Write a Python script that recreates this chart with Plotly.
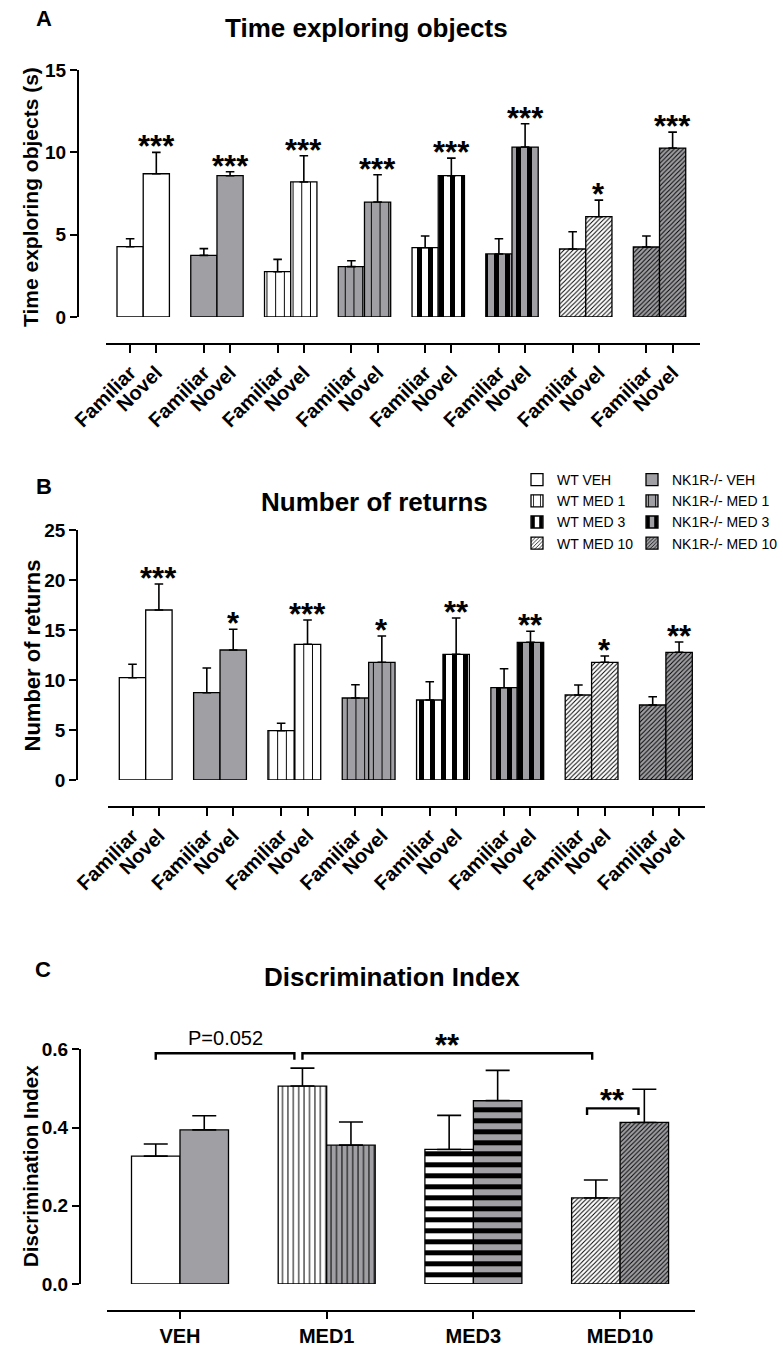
import plotly.graph_objects as go

W, H = 783, 1366
FONT = "Liberation Sans, Arial, Helvetica, sans-serif"
GRAY = "#a0a0a4"

# ---- data -------------------------------------------------------------
treatments = ["WT VEH", "NK1R-/- VEH", "WT MED 1", "NK1R-/- MED 1",
              "WT MED 3", "NK1R-/- MED 3", "WT MED 10", "NK1R-/- MED 10"]
objects = ["Familiar", "Novel"]

# Panel A: time exploring objects (s), mean and SEM per treatment
time_familiar = [4.27, 3.74, 2.75, 3.06, 4.21, 3.83, 4.13, 4.25]
time_novel = [8.70, 8.58, 8.20, 6.98, 8.58, 10.32, 6.09, 10.26]
time_familiar_sem = [0.48, 0.41, 0.75, 0.36, 0.71, 0.92, 1.05, 0.67]
time_novel_sem = [1.30, 0.24, 1.59, 1.66, 1.07, 1.42, 1.01, 0.97]
time_sig = ["***", "***", "***", "***", "***", "***", "*", "***"]

# Panel B: number of returns, mean and SEM per treatment
returns_familiar = [10.23, 8.73, 4.93, 8.20, 8.00, 9.23, 8.50, 7.50]
returns_novel = [17.00, 13.00, 13.57, 11.77, 12.57, 13.77, 11.77, 12.77]
returns_familiar_sem = [1.34, 2.47, 0.74, 1.33, 1.83, 1.90, 1.00, 0.83]
returns_novel_sem = [2.60, 2.07, 2.43, 2.63, 3.63, 1.10, 0.63, 1.03]
returns_sig = ["***", "*", "***", "*", "**", "**", "*", "**"]

# Panel C: discrimination index by dose and genotype
doses = ["VEH", "MED1", "MED3", "MED10"]
di_wt = [0.327, 0.506, 0.344, 0.220]
di_wt_sem = [0.031, 0.046, 0.087, 0.046]
di_nk = [0.394, 0.355, 0.469, 0.413]
di_nk_sem = [0.036, 0.059, 0.077, 0.085]

# ---- geometry helpers -------------------------------------------------
def px_x(p):
    return p / W


def px_y(p):
    return 1 - p / H


GAP = 2.815           # distance between treatment groups (bar widths)
C_BAR = 0.3306        # bar width on the dose axis of panel C


def fill_style(k, panel):
    """Fill and hatching for treatment k (even = WT, odd = NK1R-/-)."""
    bg = "white" if k % 2 == 0 else GRAY
    dose = k // 2
    if dose == 0:
        pat = dict(shape="")
    elif dose == 1:
        size = 8.7 if panel != "C" else 5.4
        pat = dict(shape="|", size=size, solidity=1.0 / size)
    elif dose == 2:
        pat = dict(shape="-" if panel == "C" else "|", size=11, solidity=0.45)
    else:
        pat = dict(shape="/", size=3.2, solidity=0.3)
    pat.update(fillmode="replace", fgcolor="black", bgcolor=bg)
    return dict(color=bg, pattern=pat, line=dict(color="black", width=1.3))


def err(arr, width):
    return dict(type="data", symmetric=False, array=arr, arrayminus=[0] * len(arr),
                color="black", thickness=1.6, width=width)


fig = go.Figure()

# ---- panels A and B ---------------------------------------------------
panels = [
    ("A", "x", "y", time_familiar, time_novel, time_familiar_sem, time_novel_sem, time_sig),
    ("B", "x2", "y2", returns_familiar, returns_novel, returns_familiar_sem,
     returns_novel_sem, returns_sig),
]
for name, xa, ya, fam, nov, fam_s, nov_s, sig in panels:
    for k, t in enumerate(treatments):
        xs = [k * GAP, k * GAP + 1]
        fig.add_trace(go.Bar(
            x=xs, y=[fam[k], nov[k]], width=[1, 1],
            marker=fill_style(k, name),
            error_y=err([fam_s[k], nov_s[k]], 4.3),
            name=t, xaxis=xa, yaxis=ya,
            showlegend=(name == "A"),
            legend="legend" if k % 2 == 0 else "legend2",
        ))
        fig.add_annotation(
            x=xs[1], y=nov[k] + nov_s[k], xref=xa, yref=ya, text=sig[k],
            showarrow=False, yanchor="bottom", yshift=-14,
            font=dict(family=FONT, size=31, color="black", weight="bold"),
        )

# ---- panel C ----------------------------------------------------------
for g, (vals, sems) in enumerate([(di_wt, di_wt_sem), (di_nk, di_nk_sem)]):
    for d, dose in enumerate(doses):
        k = d * 2 + g
        fig.add_trace(go.Bar(
            x=[d + (g - 0.5) * C_BAR], y=[vals[d]], width=[C_BAR],
            marker=fill_style(k, "C"),
            error_y=err([sems[d]], 12),
            name=treatments[k], xaxis="x3", yaxis="y3", showlegend=False,
        ))

# significance brackets in panel C (dose axis units, DI units)
wt_c = [d - 0.5 * C_BAR for d in range(4)]
nk_c = [d + 0.5 * C_BAR for d in range(4)]
brackets = [
    (wt_c[0], wt_c[1] - 0.055, 0.590, 0.573, "P=0.052", False),
    (wt_c[1], wt_c[3] - 0.025, 0.590, 0.573, "**", True),
    (wt_c[3] - 0.06, nk_c[3] - 0.04, 0.449, 0.432, "**", True),
]
for x0, x1, yt, yb, label, bold in brackets:
    fig.add_shape(type="path", xref="x3", yref="y3",
                  path=f"M {x0},{yb} L {x0},{yt} L {x1},{yt} L {x1},{yb}",
                  line=dict(color="black", width=2.4))
    fig.add_annotation(
        x=(x0 + x1) / 2, y=yt, xref="x3", yref="y3", text=label, showarrow=False,
        yanchor="bottom", yshift=(-12 if bold else 2),
        font=dict(family=FONT, size=(31 if bold else 20), color="black",
                  weight=("bold" if bold else "normal")),
    )

# ---- axes -------------------------------------------------------------
line = dict(showline=True, linecolor="black", linewidth=2.3, ticks="outside",
            tickcolor="black", tickwidth=2.3, showgrid=False, zeroline=False,
            automargin=False)
ytick_font = dict(family=FONT, size=19, color="black", weight="bold")
xtick_font = dict(family=FONT, size=20, color="black", weight="bold")

tick_pos = []
for k in range(8):
    tick_pos += [k * GAP, k * GAP + 1]
tick_txt = objects * 8

fig.update_layout(
    xaxis=dict(domain=[px_x(106), px_x(700)], range=[-0.92, 21.75], anchor="free",
               position=px_y(344), tickvals=tick_pos, ticktext=tick_txt, tickangle=-45,
               ticklen=8, tickfont=xtick_font, **line),
    yaxis=dict(domain=[px_y(317), px_y(70)], range=[0, 15], dtick=5, anchor="free",
               position=px_x(78), ticklen=7, tickfont=ytick_font, **line),
    xaxis2=dict(domain=[px_x(108), px_x(705)], range=[-0.928, 21.686], anchor="free",
                position=px_y(807), tickvals=tick_pos, ticktext=tick_txt, tickangle=-45,
                ticklen=8, tickfont=xtick_font, **line),
    yaxis2=dict(domain=[px_y(780), px_y(530)], range=[0, 25], dtick=5, anchor="free",
                position=px_x(77.3), ticklen=7, tickfont=ytick_font, **line),
    xaxis3=dict(domain=[px_x(107), px_x(695)], range=[-0.4976, 3.5106], anchor="free",
                position=px_y(1311), tickvals=list(range(4)), ticktext=doses,
                ticklen=7, tickfont=dict(family=FONT, size=20, color="black", weight="bold"),
                **line),
    yaxis3=dict(domain=[px_y(1284), px_y(1049.3)], range=[0, 0.6], dtick=0.2,
                tickformat=".1f", anchor="free", position=px_x(80), ticklen=7,
                tickfont=ytick_font, **line),
)

# ---- titles, panel letters and axis titles ---------------------------
texts = [
    ("A", 44, 18, 22, 0), ("B", 43.5, 487, 22, 0), ("C", 43, 969, 22, 0),
    ("Time exploring objects", 366, 28, 26, 0),
    ("Number of returns", 374, 502, 26, 0),
    ("Discrimination Index", 392, 977, 26, 0),
    ("Time exploring objects (s)", 30, 197, 21, -90),
    ("Number of returns", 31.5, 656, 22, -90),
    ("Discrimination Index", 30, 1166, 20.5, -90),
]
for txt, x, y, size, ang in texts:
    fig.add_annotation(x=px_x(x), y=px_y(y), xref="paper", yref="paper", text=txt,
                       showarrow=False, xanchor="center", yanchor="middle", textangle=ang,
                       font=dict(family=FONT, size=size, color="black", weight="bold"))

legend_common = dict(xanchor="left", yanchor="top", y=px_y(464), orientation="v",
                     font=dict(family=FONT, size=14, color="black"),
                     bgcolor="rgba(0,0,0,0)", itemwidth=30, traceorder="normal",
                     tracegroupgap=0)
fig.update_layout(
    width=W, height=H, margin=dict(l=0, r=0, t=0, b=0, pad=0, autoexpand=False),
    paper_bgcolor="white", plot_bgcolor="white", barmode="overlay",
    showlegend=True,
    legend=dict(x=px_x(517), **legend_common),
    legend2=dict(x=px_x(632), **legend_common),
    font=dict(family=FONT, color="black"),
)

fig.write_html("out.html")
